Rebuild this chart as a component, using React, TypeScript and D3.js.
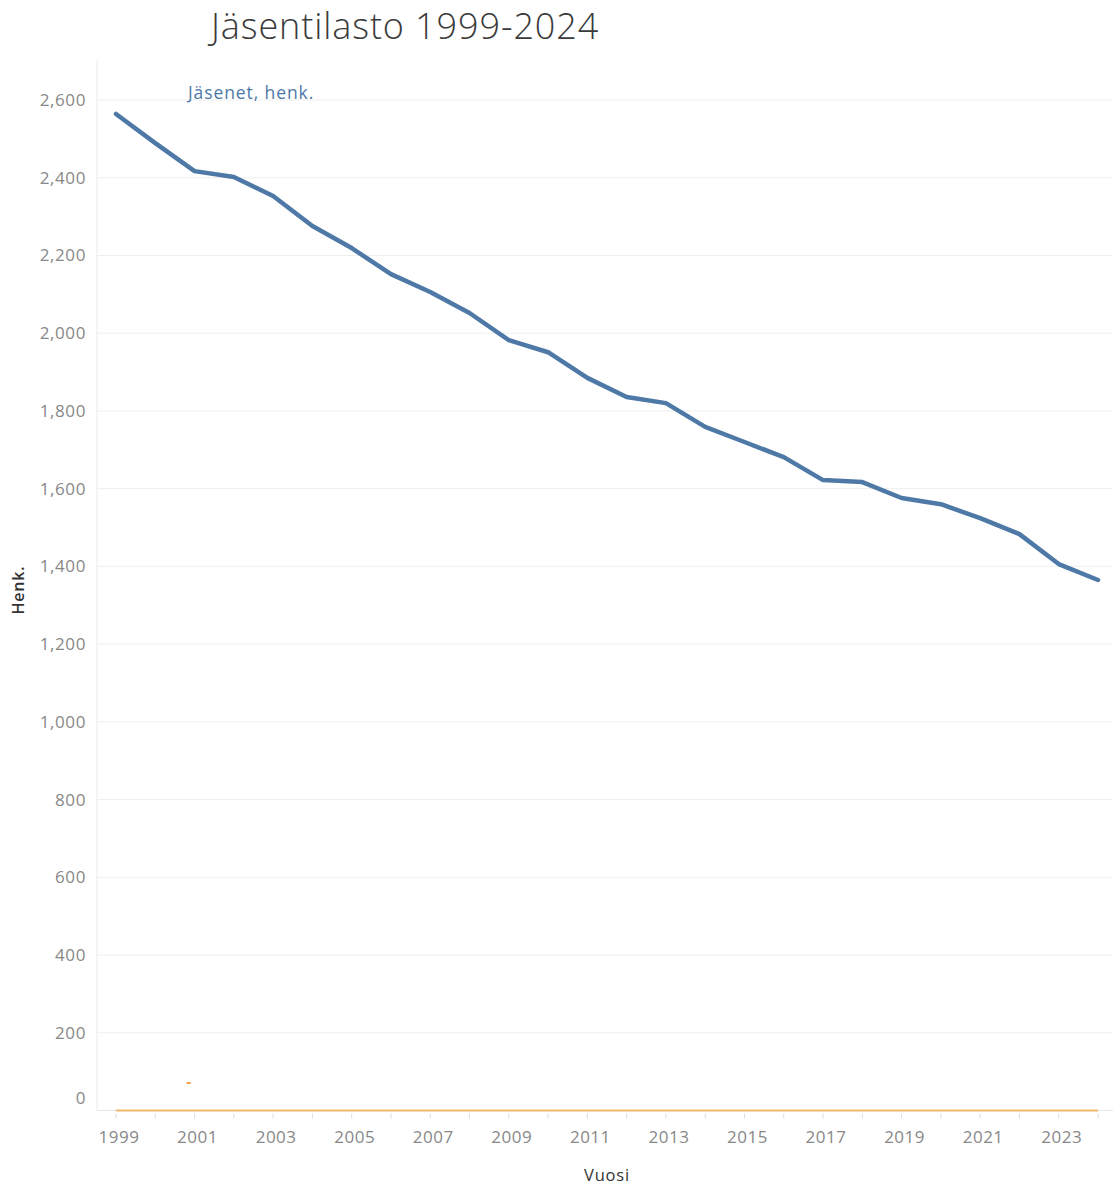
import React from "react";
import * as d3 from "d3";

const years = [1999,2000,2001,2002,2003,2004,2005,2006,2007,2008,2009,2010,2011,2012,2013,2014,2015,2016,2017,2018,2019,2020,2021,2022,2023,2024];
const members = [2564,2489,2417,2402,2353,2276,2219,2152,2106,2052,1982,1951,1885,1836,1820,1759,1720,1681,1622,1617,1576,1560,1524,1483,1406,1365];
const zeroSeries = years.map(() => 0);
const yTicks = [0,200,400,600,800,1000,1200,1400,1600,1800,2000,2200,2400,2600];
const xTickLabels = [1999,2001,2003,2005,2007,2009,2011,2013,2015,2017,2019,2021,2023];
const title = "Jäsentilasto 1999-2024";
const seriesLabel = "Jäsenet, henk.";
const yTitle = "Henk.";
const xTitle = "Vuosi";

const W = 1113, H = 1187;
const FONT = "'Open Sans', 'Noto Sans', sans-serif";

export default function App() {
  const x = d3.scaleLinear().domain([1999, 2024]).range([116, 1098]);
  const y = d3.scaleLinear().domain([0, 2600]).range([1110.5, 100]);
  const plotLeft = 97;
  const line = d3.line<number>().x((_, i) => x(years[i])).y(d => y(d));
  const fmt = d3.format(",");

  return (
    <svg width={W} height={H} style={{ position: "absolute", left: 0, top: 0, background: "#fff" }} fontFamily={FONT}>
      <text x={211} y={39} fontSize={36} fill="#3a3a3a" fontWeight={300} letterSpacing={0.9}>{title}</text>
      {/* gridlines */}
      {yTicks.map(t => (
        <line key={t} x1={plotLeft} x2={W} y1={y(t)} y2={y(t)} stroke={t === 0 ? "#e6e6e6" : "#efefef"} strokeWidth={1} />
      ))}
      <line x1={plotLeft} x2={plotLeft} y1={60} y2={y(0)} stroke="#ebebeb" strokeWidth={1} />
      {/* y labels */}
      {yTicks.map(t => (
        <text key={t} x={86} y={t === 0 ? y(t) - 12 : y(t)} dy="0.35em" textAnchor="end" fontSize={17} fill="#888" letterSpacing={0.6}>{fmt(t)}</text>
      ))}
      {/* x ticks */}
      {years.map(yr => (
        <line key={yr} x1={x(yr)} x2={x(yr)} y1={y(0) + 3} y2={y(0) + 8} stroke="#ddd" strokeWidth={1} />
      ))}
      {xTickLabels.map(yr => (
        <text key={yr} x={x(yr) + 3} y={1137} dy="0.35em" textAnchor="middle" fontSize={17} fill="#888" letterSpacing={0.5}>{yr}</text>
      ))}
      {/* series */}
      <path d={line(zeroSeries) || ""} fill="none" stroke="#f0b86c" strokeWidth={2} />
      <line x1={x(2000.8)} x2={x(2000.8) + 4} y1={1083} y2={1083} stroke="#f0a04b" strokeWidth={2} />
      <path d={line(members) || ""} fill="none" stroke="#4e79a7" strokeWidth={4.5} strokeLinejoin="round" strokeLinecap="round" />
      <text x={188} y={99} fontSize={17.5} fill="#4e79a7" letterSpacing={0.9}>{seriesLabel}</text>
      {/* axis titles */}
      <text transform="translate(24,590) rotate(-90)" textAnchor="middle" fontSize={16} fill="#333" fontWeight={600} letterSpacing={0.8}>{yTitle}</text>
      <text x={607} y={1181} textAnchor="middle" fontSize={16.5} fill="#333" fontWeight={500} letterSpacing={0.8}>{xTitle}</text>
    </svg>
  );
}
